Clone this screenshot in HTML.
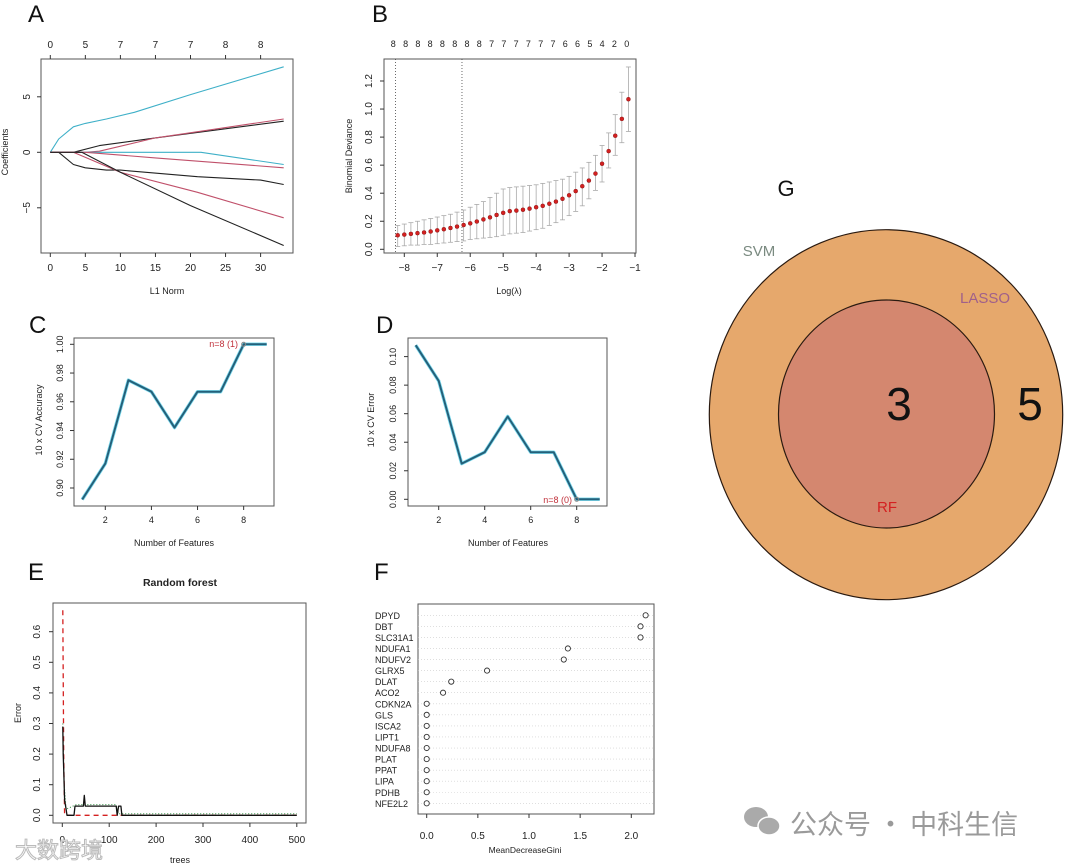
<!DOCTYPE html>
<html><head><meta charset="utf-8"><style>
html,body{margin:0;padding:0;background:#fff;}
svg{display:block;font-family:"Liberation Sans","Noto Sans CJK SC",sans-serif;}
</style></head><body>
<svg id="fig" width="1065" height="866" viewBox="0 0 1065 866" xmlns="http://www.w3.org/2000/svg"></svg>
<script>
// ---------- DATA ----------
const aTopLabels = ["0","5","7","7","7","8","8"];
const aXTicks = [0,5,10,15,20,25,30];
const aYTicks = [-5,0,5];
const aPathX = [
 [0,1.2,3.3,5,8,12,20,33.3],
 [0,3.3,7,15,33.3],
 [0,5,7,15,33.3],
 [0,6,21.5,33.3],
 [0,5,15,33.3],
 [0,1.2,3.3,5,8,10,21,30,33.3],
 [0,3.3,10,21,33.3],
 [0,4.5,10,20,33.3]
];
const aPathY = [
 [0,1.2,2.3,2.6,3.0,3.6,5.2,7.7],
 [0,0,0.6,1.3,2.8],
 [0,0,0.1,1.3,3.0],
 [0,0,0,-1.1],
 [0,0,-0.5,-1.4],
 [0,0,-1.1,-1.4,-1.6,-1.6,-2.2,-2.5,-2.9],
 [0,0,-1.8,-3.6,-5.9],
 [0,0,-1.8,-4.8,-8.4]
];
const aPathColors = ["#3fb0c8","#222","#c0506a","#3fb0c8","#c0506a","#222","#c0506a","#222"];

const bLambda = [-8.2,-8.0,-7.8,-7.6,-7.4,-7.2,-7.0,-6.8,-6.6,-6.4,-6.2,-6.0,-5.8,-5.6,-5.4,-5.2,-5.0,-4.8,-4.6,-4.4,-4.2,-4.0,-3.8,-3.6,-3.4,-3.2,-3.0,-2.8,-2.6,-2.4,-2.2,-2.0,-1.8,-1.6,-1.4,-1.2];
const bMean = [0.10,0.105,0.11,0.115,0.12,0.127,0.135,0.143,0.152,0.162,0.173,0.185,0.198,0.213,0.228,0.245,0.26,0.272,0.276,0.282,0.29,0.30,0.31,0.325,0.34,0.36,0.385,0.415,0.45,0.49,0.54,0.61,0.70,0.81,0.93,1.07];
const bUpper = [0.17,0.18,0.19,0.20,0.21,0.22,0.23,0.24,0.25,0.265,0.28,0.30,0.32,0.34,0.37,0.40,0.43,0.44,0.445,0.45,0.455,0.46,0.47,0.48,0.49,0.50,0.52,0.55,0.58,0.62,0.67,0.74,0.83,0.96,1.12,1.30];
const bLower = [0.02,0.025,0.03,0.03,0.035,0.035,0.04,0.045,0.05,0.055,0.06,0.07,0.075,0.08,0.085,0.09,0.10,0.11,0.115,0.12,0.13,0.14,0.15,0.17,0.19,0.21,0.24,0.27,0.31,0.36,0.42,0.48,0.58,0.67,0.76,0.84];
const bTopLabels = ["8","8","8","8","8","8","8","8","7","7","7","7","7","7","6","6","5","4","2","0"];
const bXTicks = [-8,-7,-6,-5,-4,-3,-2,-1];
const bYTicks = [0,0.2,0.4,0.6,0.8,1.0,1.2];
const bVLines = [-8.27,-6.25];

const cFeatures = [1,2,3,4,5,6,7,8,9];
const cAccuracy = [0.892,0.917,0.975,0.967,0.942,0.967,0.967,1.0,1.0];
const cXTicks = [2,4,6,8];
const cYTicks = [0.90,0.92,0.94,0.96,0.98,1.00];

const dFeatures = [1,2,3,4,5,6,7,8,9];
const dError = [0.108,0.083,0.025,0.033,0.058,0.033,0.033,0,0];
const dXTicks = [2,4,6,8];
const dYTicks = [0,0.02,0.04,0.06,0.08,0.10];

const eOobTrees = [1,2,3,5,8,10,25,27,45,47,49,115,117,120,125,127,500];
const eOobErr =   [0.29,0.2,0.15,0.05,0.02,0,0,0.03,0.03,0.065,0.03,0.03,0,0.03,0.03,0,0];
const eC1Trees = [1,3,5,500];
const eC1Err = [0.67,0.2,0,0];
const eC2Trees = [1,4,8,30,115,120,500];
const eC2Err = [0.3,0.1,0.02,0.035,0.035,0.005,0.005];
const eXTicks = [0,100,200,300,400,500];
const eYTicks = [0,0.1,0.2,0.3,0.4,0.5,0.6];

const fGenes = ["DPYD","DBT","SLC31A1","NDUFA1","NDUFV2","GLRX5","DLAT","ACO2","CDKN2A","GLS","ISCA2","LIPT1","NDUFA8","PLAT","PPAT","LIPA","PDHB","NFE2L2"];
const fGini = [2.14,2.09,2.09,1.38,1.34,0.59,0.24,0.16,0,0,0,0,0,0,0,0,0,0];
const fXTicks = [0,0.5,1.0,1.5,2.0];

const gSets = ["SVM","LASSO","RF"];
const gCounts = [5,3];

// ---------- HELPERS ----------
const svg = document.getElementById('fig');
const NS = "http://www.w3.org/2000/svg";
function mk(tag, attrs, name, parent){
  const el = document.createElementNS(NS, tag);
  for (const k in attrs) el.setAttribute(k, attrs[k]);
  
  
  (parent||svg).appendChild(el);
  return el;
}
function txt(x,y,s,size,name,opt){
  opt=opt||{};
  const a={x:x,y:y,'font-size':size,fill:opt.fill||'#222','text-anchor':opt.anchor||'middle'};
  if(opt.rot) a.transform='rotate(-90 '+x+' '+y+')';
  if(opt.weight) a['font-weight']=opt.weight;
  if(opt.family) a['font-family']=opt.family;
  const t=mk('text',a,name);
  t.textContent=s;
  return t;
}
function line(x1,y1,x2,y2,name,stroke,w,dash){
  const a={x1:x1,y1:y1,x2:x2,y2:y2,stroke:stroke||'#333','stroke-width':w||1};
  if(dash) a['stroke-dasharray']=dash;
  return mk('line',a,name);
}
function box(x1,y1,x2,y2,name){
  return mk('rect',{x:x1,y:y1,width:x2-x1,height:y2-y1,fill:'none',stroke:'#555','stroke-width':1},name);
}
function poly(xs,ys,fx,fy,name,stroke,w,dash){
  const pts=xs.map((v,i)=>fx(v).toFixed(1)+','+fy(ys[i]).toFixed(1)).join(' ');
  const a={points:pts,fill:'none',stroke:stroke,'stroke-width':w,'stroke-linejoin':'round'};
  if(dash) a['stroke-dasharray']=dash;
  return mk('polyline',a,name);
}
function fmt(v,d){return v.toFixed(d);}
function panelLetter(x,y,s){ txt(x,y,s,24,'panel-label-'+s.toLowerCase(),{anchor:'start',fill:'#111'}); }

// ---------- PANEL A ----------
panelLetter(28,22,'A');
const xA=v=>50.3+v*7.01, yA=v=>152.3-v*11.1;
box(41,59,293,253,'panel-a-plot-box');
aXTicks.forEach((v,i)=>{
  line(xA(v),253,xA(v),257,'a-x-tick');
  txt(xA(v),271,String(v),10,'a-x-tick-label');
  line(xA(v),59,xA(v),55,'a-top-tick');
  txt(xA(v),48,aTopLabels[i],10,'a-top-tick-label');
});
aYTicks.forEach(v=>{
  line(41,yA(v),37,yA(v),'a-y-tick');
  txt(30,yA(v),String(v).replace('-','−'),10,'a-y-tick-label',{rot:true});
});
txt(8,152,'Coefficients',9,'a-y-axis-title',{rot:true});
txt(167,294,'L1 Norm',9,'a-x-axis-title');
aPathX.forEach((xs,i)=>poly(xs,aPathY[i],xA,yA,'a-coef-path-'+(i+1),aPathColors[i],1.1));

// ---------- PANEL B ----------
panelLetter(372,22,'B');
const xB=v=>404.3+(v+8)*32.96, yB=v=>249.3-v*140.25;
box(384,59,636,253,'panel-b-plot-box');
bXTicks.forEach(v=>{
  line(xB(v),253,xB(v),257,'b-x-tick');
  txt(xB(v),271,String(v).replace('-','−'),10,'b-x-tick-label');
});
bYTicks.forEach(v=>{
  line(384,yB(v),380,yB(v),'b-y-tick');
  txt(372,yB(v),fmt(v,1),10,'b-y-tick-label',{rot:true});
});
bTopLabels.forEach((s,i)=>{
  txt(393.3+i*(233.4/19),47,s,9,'b-top-count-label');
});
txt(509,294,'Log(λ)',9,'b-x-axis-title');
txt(352,156,'Binomial Deviance',9,'b-y-axis-title',{rot:true});
bVLines.forEach(v=>line(xB(v),59,xB(v),253,'b-lambda-vline','#444',0.8,'1,2'));
bLambda.forEach((v,i)=>{
  const x=xB(v);
  line(x,yB(bLower[i]),x,yB(bUpper[i]),'b-error-bar','#aaa',0.8);
  line(x-2.5,yB(bUpper[i]),x+2.5,yB(bUpper[i]),'b-error-cap','#aaa',0.8);
  line(x-2.5,yB(bLower[i]),x+2.5,yB(bLower[i]),'b-error-cap','#aaa',0.8);
});
bLambda.forEach((v,i)=>{
  mk('circle',{cx:xB(v),cy:yB(bMean[i]),r:2,fill:'#d42020',stroke:'#8a1a1a','stroke-width':0.5},'b-deviance-point');
});

// ---------- PANEL C ----------
panelLetter(29,333,'C');
const xC=v=>105.3+(v-2)*23.06, yC=v=>488-(v-0.9)*1437;
box(74,338,274,506,'panel-c-plot-box');
cXTicks.forEach(v=>{line(xC(v),506,xC(v),510,'c-x-tick');txt(xC(v),523,String(v),9,'c-x-tick-label');});
cYTicks.forEach(v=>{line(74,yC(v),70,yC(v),'c-y-tick');txt(63,yC(v),fmt(v,2),9,'c-y-tick-label',{rot:true});});
txt(174,546,'Number of Features',9,'c-x-axis-title');
txt(42,420,'10 x CV Accuracy',9,'c-y-axis-title',{rot:true});
poly(cFeatures,cAccuracy,xC,yC,'c-accuracy-glow','#7fdcef',3.5);
poly(cFeatures,cAccuracy,xC,yC,'c-accuracy-line','#24607a',2);
mk('circle',{cx:xC(8),cy:yC(1.0),r:2,fill:'none',stroke:'#888'},'c-best-point');
txt(238,347,'n=8 (1)',9,'c-best-label',{anchor:'end',fill:'#c0303a'});

// ---------- PANEL D ----------
panelLetter(376,333,'D');
const xD=v=>438.7+(v-2)*23, yD=v=>499.3-v*1427;
box(408,338,607,506,'panel-d-plot-box');
dXTicks.forEach(v=>{line(xD(v),506,xD(v),510,'d-x-tick');txt(xD(v),523,String(v),9,'d-x-tick-label');});
dYTicks.forEach(v=>{line(408,yD(v),404,yD(v),'d-y-tick');txt(396,yD(v),fmt(v,2),9,'d-y-tick-label',{rot:true});});
txt(508,546,'Number of Features',9,'d-x-axis-title');
txt(374,420,'10 x CV Error',9,'d-y-axis-title',{rot:true});
poly(dFeatures,dError,xD,yD,'d-error-glow','#7fdcef',3.5);
poly(dFeatures,dError,xD,yD,'d-error-line','#24607a',2);
mk('circle',{cx:xD(8),cy:yD(0),r:2,fill:'none',stroke:'#888'},'d-best-point');
txt(572,503,'n=8 (0)',9,'d-best-label',{anchor:'end',fill:'#c0303a'});

// ---------- PANEL E ----------
panelLetter(28,580,'E');
const xE=v=>62.3+v*0.469, yE=v=>815.3-v*306;
box(53,603,306,823,'panel-e-plot-box');
txt(180,586,'Random forest',10.5,'e-title',{weight:'bold'});
eXTicks.forEach(v=>{line(xE(v),823,xE(v),827,'e-x-tick');txt(xE(v),843,String(v),10,'e-x-tick-label');});
eYTicks.forEach(v=>{line(53,yE(v),49,yE(v),'e-y-tick');txt(40,yE(v),fmt(v,1),10,'e-y-tick-label',{rot:true});});
txt(180,863,'trees',9,'e-x-axis-title');
txt(21,713,'Error',9,'e-y-axis-title',{rot:true});
poly(eC2Trees,eC2Err,xE,yE,'e-class2-error-line','#2a8a3a',1,'1,2');
poly(eC1Trees,eC1Err,xE,yE,'e-class1-error-line','#d42020',1.3,'5,4');
poly(eOobTrees,eOobErr,xE,yE,'e-oob-error-line','#111',1.3);
txt(15,858,'大数跨境',22,'watermark-left',{anchor:'start',fill:'#fff',family:'"Noto Sans CJK SC",sans-serif'}).setAttribute('stroke','#bbb');

// ---------- PANEL F ----------
panelLetter(374,580,'F');
const xF=v=>426.7+v*102.3, yF=i=>615.3+i*11.06;
box(418,604,654,814,'panel-f-plot-box');
fXTicks.forEach(v=>{line(xF(v),814,xF(v),818,'f-x-tick');txt(xF(v),839,fmt(v,1),10,'f-x-tick-label');});
txt(525,853,'MeanDecreaseGini',8.5,'f-x-axis-title');
fGenes.forEach((g,i)=>{
  line(418,yF(i),654,yF(i),'f-row-guide','#ccc',0.6,'1,2');
  txt(375,yF(i)+3.5,g,9,'f-gene-label',{anchor:'start'});
  mk('circle',{cx:xF(fGini[i]),cy:yF(i),r:2.6,fill:'#fff',stroke:'#333','stroke-width':0.9},'f-gini-point');
});

// ---------- PANEL G ----------
txt(786,196,'G',22,'panel-label-g',{fill:'#111'});
mk('ellipse',{cx:886,cy:414.7,rx:176.7,ry:185,fill:'#E6A86C',stroke:'#2a1a10','stroke-width':1.2},'venn-svm-lasso-circle');
mk('ellipse',{cx:886.5,cy:414,rx:108,ry:114,fill:'#D4876F',stroke:'#2a1a10','stroke-width':1.2},'venn-rf-circle');
txt(759,256,gSets[0],15,'venn-svm-label',{fill:'#7a8a80'});
txt(985,303,gSets[1],15,'venn-lasso-label',{fill:'#a0608a'});
txt(887,512,gSets[2],15,'venn-rf-label',{fill:'#d42020'});
txt(899,420,String(gCounts[1]),46,'venn-count-intersection',{fill:'#111'});
txt(1030,420,String(gCounts[0]),46,'venn-count-outer',{fill:'#111'});

// ---------- WATERMARK ----------
mk('ellipse',{cx:756,cy:817,rx:12,ry:10,fill:'#aaa'},'wechat-icon-bubble-1');
mk('ellipse',{cx:769,cy:826,rx:11,ry:9,fill:'#aaa',stroke:'#fff','stroke-width':1.5},'wechat-icon-bubble-2');
txt(790,834,'公众号 · 中科生信',27,'watermark-right',{anchor:'start',fill:'#9a9a9a',family:'"Noto Sans CJK SC",sans-serif'});
</script>
</body></html>
